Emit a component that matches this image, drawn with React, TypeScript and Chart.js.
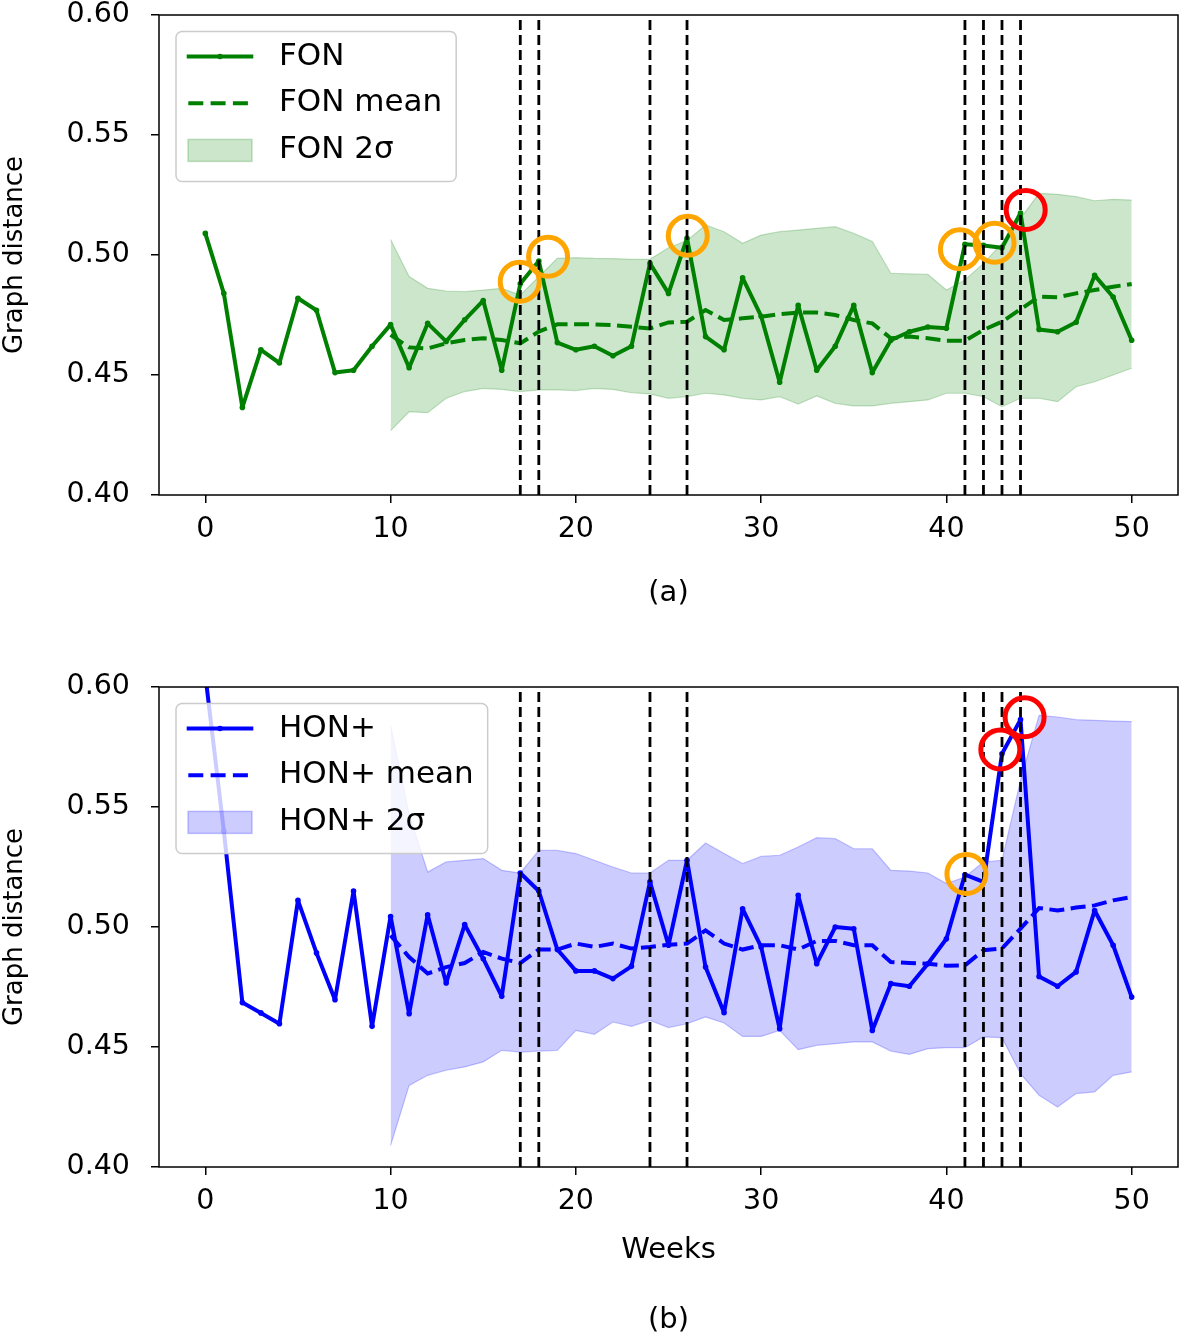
import React, { useEffect, useRef } from 'react';
import { Chart, registerables } from 'chart.js';

Chart.register(...registerables);

const FONT_FAMILY = '"DejaVu Sans", "Liberation Sans", sans-serif';

// ---------- data ----------
const weeks = [0, 1, 2, 3, 4, 5, 6, 7, 8, 9, 10, 11, 12, 13, 14, 15, 16, 17, 18, 19, 20, 21, 22, 23, 24, 25,
  26, 27, 28, 29, 30, 31, 32, 33, 34, 35, 36, 37, 38, 39, 40, 41, 42, 43, 44, 45, 46, 47, 48, 49, 50];
const bandWeeks = [10, 11, 12, 13, 14, 15, 16, 17, 18, 19, 20, 21, 22, 23, 24, 25, 26, 27, 28, 29, 30,
  31, 32, 33, 34, 35, 36, 37, 38, 39, 40, 41, 42, 43, 44, 45, 46, 47, 48, 49, 50];
const xTicks = [0, 10, 20, 30, 40, 50];
const yTicks = [0.40, 0.45, 0.50, 0.55, 0.60];
const anomalyWeeks = [17, 18, 24, 26, 41, 42, 43, 44];

const fonValues = [0.509, 0.484, 0.4365, 0.4605, 0.455, 0.482, 0.477, 0.451, 0.452, 0.462,
  0.471, 0.453, 0.4715, 0.464, 0.473, 0.481, 0.452, 0.488, 0.4975, 0.4635,
  0.4605, 0.462, 0.458, 0.462, 0.4965, 0.484, 0.507, 0.466, 0.4605, 0.4905,
  0.4745, 0.447, 0.479, 0.452, 0.462, 0.479, 0.451, 0.4645, 0.468, 0.470,
  0.4695, 0.5045, 0.504, 0.503, 0.5175, 0.469, 0.468, 0.472, 0.4915, 0.4825, 0.4645];
const fonMean = [0.4667, 0.4615, 0.4611, 0.4632, 0.4646, 0.4653, 0.4646, 0.4632, 0.4681, 0.4711,
  0.4711, 0.4711, 0.4708, 0.4701, 0.4694, 0.4719, 0.4722, 0.4771, 0.4729, 0.4736,
  0.4743, 0.4754, 0.4760, 0.4760, 0.4750, 0.4729, 0.4715, 0.4653, 0.4660, 0.4653,
  0.4643, 0.4643, 0.4688, 0.4722, 0.4774, 0.4826, 0.4824, 0.4840, 0.4854, 0.4868, 0.4879];
const fonUpper = [0.5065, 0.4910, 0.4861, 0.4850, 0.4847, 0.4854, 0.4861, 0.4833, 0.4910, 0.4986,
  0.4989, 0.4986, 0.4985, 0.4982, 0.4982, 0.5030, 0.5060, 0.5125, 0.5097, 0.5049,
  0.5083, 0.5097, 0.5104, 0.5111, 0.5118, 0.5090, 0.5056, 0.4924, 0.4921, 0.4919,
  0.4854, 0.4896, 0.4965, 0.5049, 0.5153, 0.5257, 0.5253, 0.5243, 0.5226, 0.5232, 0.5229];
const fonLower = [0.4268, 0.4347, 0.4343, 0.4403, 0.4431, 0.4444, 0.4440, 0.4431, 0.4438, 0.4438,
  0.4435, 0.4444, 0.4440, 0.4426, 0.4421, 0.4403, 0.4410, 0.4424, 0.4417, 0.4403,
  0.4396, 0.4410, 0.4379, 0.4413, 0.4382, 0.4371, 0.4371, 0.4382, 0.4389, 0.4396,
  0.4424, 0.4424, 0.4410, 0.4368, 0.4403, 0.4403, 0.4389, 0.4451, 0.4472, 0.4500, 0.4528];
const fonOrangeWeeks = [16.97, 18.5, 26.04, 40.73, 42.6];
const fonOrangeValues = [0.4889, 0.4993, 0.5080, 0.5024, 0.5051];
const fonRedWeeks = [44.28];
const fonRedValues = [0.5188];

const honValues = [0.605, 0.540, 0.4685, 0.4642, 0.4597, 0.5111, 0.4892, 0.4697, 0.5150, 0.4586,
  0.5044, 0.4639, 0.5051, 0.4767, 0.5010, 0.4868, 0.4711, 0.5225, 0.5150, 0.4906,
  0.4817, 0.4817, 0.4785, 0.4836, 0.5188, 0.4924, 0.5278, 0.4833, 0.4643, 0.5076,
  0.4917, 0.4576, 0.5132, 0.4847, 0.5000, 0.4993, 0.4569, 0.4764, 0.4753, 0.4847,
  0.4951, 0.5218, 0.5188, 0.5722, 0.5864, 0.4794, 0.4753, 0.4813, 0.5069, 0.4924, 0.4708];
const honMean = [0.4965, 0.4875, 0.4806, 0.4833, 0.4850, 0.4896, 0.4868, 0.4850, 0.4906, 0.4906,
  0.4931, 0.4917, 0.4931, 0.4910, 0.4917, 0.4926, 0.4931, 0.4986, 0.4931, 0.4906,
  0.4924, 0.4924, 0.4906, 0.4942, 0.4942, 0.4924, 0.4924, 0.4854, 0.4850, 0.4847,
  0.4839, 0.4840, 0.4903, 0.4910, 0.4993, 0.5079, 0.5069, 0.5081, 0.5090, 0.5111, 0.5125];
const honUpper = [0.584, 0.547, 0.5229, 0.5271, 0.5278, 0.5285, 0.5236, 0.5225, 0.5319, 0.5319,
  0.5306, 0.5278, 0.5250, 0.5225, 0.5225, 0.5278, 0.5278, 0.5350, 0.5306, 0.5264,
  0.5294, 0.5299, 0.5333, 0.5372, 0.5368, 0.5326, 0.5326, 0.5236, 0.5233, 0.5225,
  0.5181, 0.5208, 0.5271, 0.5278, 0.5611, 0.5882, 0.5875, 0.5864, 0.5861, 0.5858, 0.5856];
const honLower = [0.4090, 0.4340, 0.4382, 0.4403, 0.4417, 0.4438, 0.4486, 0.4479, 0.4483, 0.4486,
  0.4569, 0.4553, 0.4604, 0.4586, 0.4611, 0.4581, 0.4597, 0.4625, 0.4600, 0.4544,
  0.4544, 0.4569, 0.4489, 0.4507, 0.4514, 0.4521, 0.4521, 0.4483, 0.4469, 0.4493,
  0.4497, 0.4497, 0.4542, 0.4539, 0.4389, 0.4299, 0.4250, 0.4306, 0.4313, 0.4382, 0.4396];
const honOrangeWeeks = [41.08];
const honOrangeValues = [0.5221];
const honRedWeeks = [42.91, 44.22];
const honRedValues = [0.5740, 0.5874];

// ---------- panel specs ----------
type PanelSpec = {
  name: string;
  color: string;
  fillColor: string;
  edgeColor: string;
  values: number[];
  mean: number[];
  upper: number[];
  lower: number[];
  orangeW: number[];
  orangeV: number[];
  redW: number[];
  redV: number[];
  padTop: number;
  axisHeight: number;
  xTitle: string | string[];
  xTitleLineHeight: number;
  xTitlePadBottom: number;
};

const panelA: PanelSpec = {
  name: 'FON',
  color: '#008000',
  fillColor: 'rgba(0,128,0,0.2)',
  edgeColor: 'rgba(0,128,0,0.22)',
  values: fonValues,
  mean: fonMean,
  upper: fonUpper,
  lower: fonLower,
  orangeW: fonOrangeWeeks,
  orangeV: fonOrangeValues,
  redW: fonRedWeeks,
  redV: fonRedValues,
  padTop: 15,
  axisHeight: 145,
  xTitle: '(a)',
  xTitleLineHeight: 1.2,
  xTitlePadBottom: 29.6,
};

const panelB: PanelSpec = {
  name: 'HON+',
  color: '#0000ff',
  fillColor: 'rgba(0,0,255,0.2)',
  edgeColor: 'rgba(0,0,255,0.22)',
  values: honValues,
  mean: honMean,
  upper: honUpper,
  lower: honLower,
  orangeW: honOrangeWeeks,
  orangeV: honOrangeValues,
  redW: honRedWeeks,
  redV: honRedValues,
  padTop: 47,
  axisHeight: 168,
  xTitle: ['Weeks', '(b)'],
  xTitleLineHeight: 70 / 29,
  xTitlePadBottom: -20,
};

// ---------- plugins ----------
const framePlugin = {
  id: 'mplFrame',
  afterDatasetsDraw(chart: any) {
    const { ctx, chartArea } = chart;
    ctx.save();
    ctx.strokeStyle = '#000';
    ctx.lineWidth = 1.5;
    ctx.strokeRect(chartArea.left, chartArea.top, chartArea.right - chartArea.left, chartArea.bottom - chartArea.top);
    ctx.restore();
  },
};

function makeLegendPlugin(spec: PanelSpec) {
  const labels = [spec.name, spec.name + ' mean', spec.name + ' 2σ'];
  return {
    id: 'mplLegend',
    afterDraw(chart: any) {
      const { ctx, chartArea } = chart;
      ctx.save();
      ctx.font = `31px ${FONT_FAMILY}`;
      const left = chartArea.left + 17;
      const top = chartArea.top + 16.5;
      const textX = left + 103;
      const maxW = Math.max(...labels.map((l) => ctx.measureText(l).width));
      const width = textX + maxW + 14 - left;
      const height = 150;
      const r = 6;
      ctx.beginPath();
      ctx.moveTo(left + r, top);
      ctx.lineTo(left + width - r, top);
      ctx.arcTo(left + width, top, left + width, top + r, r);
      ctx.lineTo(left + width, top + height - r);
      ctx.arcTo(left + width, top + height, left + width - r, top + height, r);
      ctx.lineTo(left + r, top + height);
      ctx.arcTo(left, top + height, left, top + height - r, r);
      ctx.lineTo(left, top + r);
      ctx.arcTo(left, top, left + r, top, r);
      ctx.closePath();
      ctx.fillStyle = 'rgba(255,255,255,0.8)';
      ctx.fill();
      ctx.strokeStyle = '#cccccc';
      ctx.lineWidth = 1.5;
      ctx.stroke();

      const rowStep = 46.7;
      labels.forEach((label, i) => {
        const cy = top + 25 + i * rowStep;
        if (i === 0) {
          ctx.beginPath();
          ctx.strokeStyle = spec.color;
          ctx.lineWidth = 4;
          ctx.setLineDash([]);
          ctx.moveTo(left + 10.7, cy);
          ctx.lineTo(left + 77.3, cy);
          ctx.stroke();
          ctx.beginPath();
          ctx.fillStyle = spec.color;
          ctx.arc(left + 44, cy, 2.8, 0, Math.PI * 2);
          ctx.fill();
        } else if (i === 1) {
          ctx.beginPath();
          ctx.strokeStyle = spec.color;
          ctx.lineWidth = 4;
          ctx.setLineDash([15, 7.3]);
          ctx.moveTo(left + 12.3, cy);
          ctx.lineTo(left + 73, cy);
          ctx.stroke();
          ctx.setLineDash([]);
        } else {
          ctx.fillStyle = spec.fillColor;
          ctx.fillRect(left + 12, cy - 10.5, 64, 22);
          ctx.strokeStyle = spec.edgeColor;
          ctx.lineWidth = 1.5;
          ctx.strokeRect(left + 12, cy - 10.5, 64, 22);
        }
        ctx.fillStyle = '#000';
        ctx.textAlign = 'left';
        ctx.textBaseline = 'middle';
        ctx.fillText(label, textX, cy);
      });
      ctx.restore();
    },
  };
}

// ---------- config ----------
function buildConfig(spec: PanelSpec): any {
  const xy = (xs: number[], ys: (number | null)[]) => xs.map((x, i) => ({ x, y: ys[i] }));
  const yMin = yTicks[0];
  const yMax = yTicks[yTicks.length - 1];
  const vlineData: { x: number; y: number | null }[] = [];
  anomalyWeeks.forEach((w) => {
    vlineData.push({ x: w, y: yMin }, { x: w, y: yMax }, { x: w, y: null });
  });
  const gridOpts = {
    display: true,
    drawOnChartArea: false,
    drawTicks: true,
    tickLength: 8,
    color: '#000',
    lineWidth: 1.5,
  };
  return {
    type: 'line',
    data: {
      datasets: [
        {
          label: 'lower',
          data: xy(bandWeeks, spec.lower),
          borderColor: spec.edgeColor,
          borderWidth: 1.2,
          pointRadius: 0,
          fill: false,
          tension: 0,
          order: 6,
        },
        {
          label: 'upper',
          data: xy(bandWeeks, spec.upper),
          borderColor: spec.edgeColor,
          borderWidth: 1.2,
          pointRadius: 0,
          fill: '-1',
          backgroundColor: spec.fillColor,
          tension: 0,
          order: 5,
        },
        {
          label: 'mean',
          data: xy(bandWeeks, spec.mean),
          borderColor: spec.color,
          borderWidth: 4,
          borderDash: [15, 6.5],
          pointRadius: 0,
          fill: false,
          tension: 0,
          order: 4,
        },
        {
          label: 'main',
          data: xy(weeks, spec.values),
          borderColor: spec.color,
          borderWidth: 4,
          borderJoinStyle: 'round',
          pointRadius: 2.8,
          pointBackgroundColor: spec.color,
          pointBorderWidth: 0,
          fill: false,
          tension: 0,
          order: 3,
          clip: 0,
        },
        {
          label: 'vlines',
          data: vlineData,
          borderColor: '#000',
          borderWidth: 2.8,
          borderDash: [10, 5],
          pointRadius: 0,
          spanGaps: false,
          fill: false,
          order: 2,
        },
        {
          label: 'orange',
          data: xy(spec.orangeW, spec.orangeV),
          showLine: false,
          pointRadius: 19.5,
          pointBorderWidth: 5,
          pointBorderColor: '#ffa500',
          pointBackgroundColor: 'rgba(0,0,0,0)',
          order: 1,
          clip: false,
        },
        {
          label: 'red',
          data: xy(spec.redW, spec.redV),
          showLine: false,
          pointRadius: 19.5,
          pointBorderWidth: 5,
          pointBorderColor: '#ff0000',
          pointBackgroundColor: 'rgba(0,0,0,0)',
          order: 0,
          clip: false,
        },
      ],
    },
    options: {
      responsive: false,
      animation: false,
      devicePixelRatio: 1,
      events: [],
      layout: { autoPadding: false, padding: { top: spec.padTop, right: 1, bottom: 0, left: 0 } },
      plugins: {
        legend: { display: false },
        tooltip: { enabled: false },
        title: { display: false },
      },
      scales: {
        x: {
          type: 'linear',
          min: -2.5,
          max: 52.5,
          afterBuildTicks: (s: any) => {
            s.ticks = xTicks.map((v) => ({ value: v }));
          },
          afterFit: (s: any) => {
            s.height = spec.axisHeight;
            s.paddingLeft = 0;
            s.paddingRight = 0;
          },
          grid: gridOpts,
          border: { display: false },
          ticks: {
            color: '#000',
            font: { size: 28.5, family: FONT_FAMILY },
            padding: 9.5,
            maxRotation: 0,
            autoSkip: false,
          },
          title: {
            display: true,
            text: spec.xTitle,
            color: '#000',
            font: { size: 29, family: FONT_FAMILY, lineHeight: spec.xTitleLineHeight },
            padding: { top: 0, bottom: spec.xTitlePadBottom },
          },
        },
        y: {
          type: 'linear',
          min: yMin,
          max: yMax,
          afterBuildTicks: (s: any) => {
            s.ticks = yTicks.map((v) => ({ value: v }));
          },
          afterFit: (s: any) => {
            s.width = 159;
            s.paddingTop = 0;
            s.paddingBottom = 0;
          },
          grid: gridOpts,
          border: { display: false },
          ticks: {
            color: '#000',
            font: { size: 28.5, family: FONT_FAMILY, lineHeight: 1 },
            padding: 21,
            callback: (v: any) => Number(v).toFixed(2),
          },
          title: {
            display: true,
            text: 'Graph distance',
            color: '#000',
            font: { size: 26, family: FONT_FAMILY, lineHeight: 1.15 },
            padding: { top: 0, bottom: 0 },
          },
        },
      },
    },
    plugins: [framePlugin, makeLegendPlugin(spec)],
  };
}

function ChartPanel({ spec, top, height }: { spec: PanelSpec; top: number; height: number }) {
  const ref = useRef<HTMLCanvasElement>(null);
  useEffect(() => {
    if (!ref.current) return;
    const chart = new Chart(ref.current, buildConfig(spec));
    return () => chart.destroy();
  }, [spec]);
  return (
    <canvas
      ref={ref}
      width={1179}
      height={height}
      style={{ position: 'absolute', left: 0, top, width: 1179, height, display: 'block' }}
    />
  );
}

export default function App() {
  return (
    <div style={{ position: 'absolute', left: 0, top: 0, width: 1179, height: 1335, background: '#fff' }}>
      <ChartPanel spec={panelA} top={0} height={640} />
      <ChartPanel spec={panelB} top={640} height={695} />
    </div>
  );
}
